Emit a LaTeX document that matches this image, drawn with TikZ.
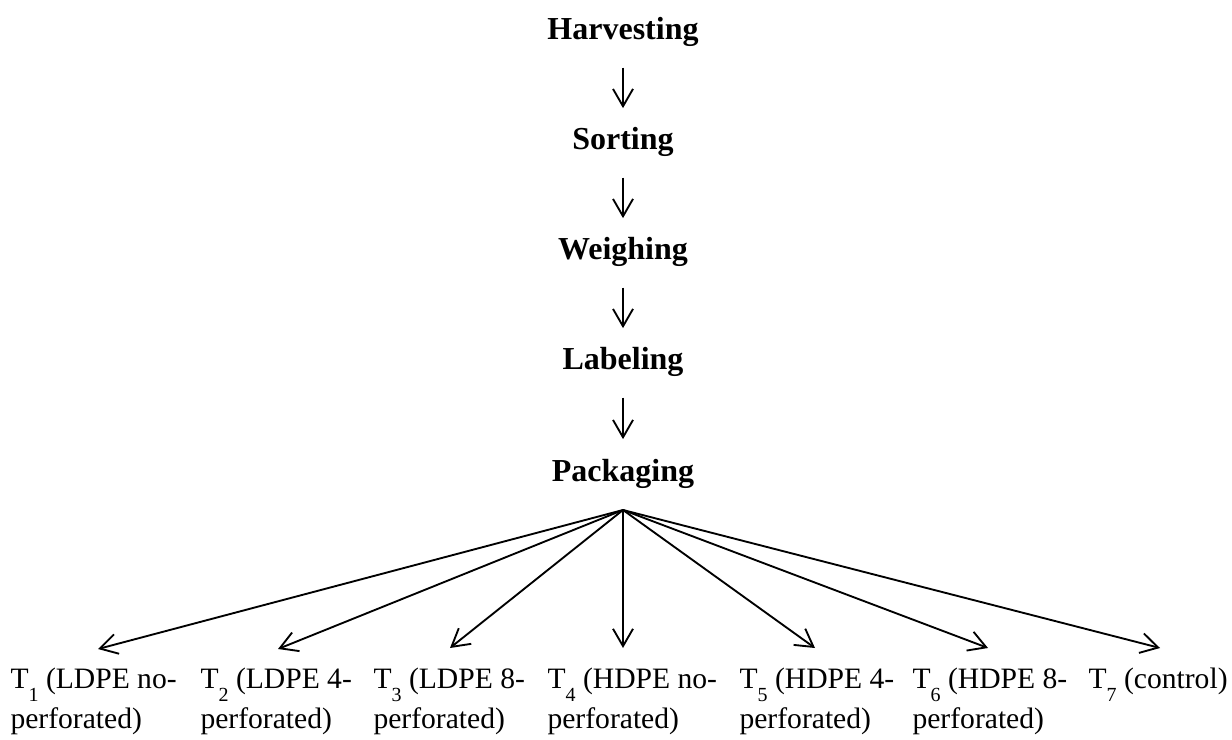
\documentclass[tikz,border=0pt]{standalone}
\usepackage{fontspec}
\setmainfont{Liberation Serif}
\usetikzlibrary{arrows.meta}
\newcommand{\tsub}[1]{\raisebox{-5pt}{\fontsize{7.5}{8}\selectfont #1}}

\begin{document}
\begin{tikzpicture}[x=0.375pt,y=-0.375pt,
  stage/.style={font=\fontsize{12}{15}\selectfont\bfseries,inner sep=0pt,text height=8.5pt,text depth=2.7pt,anchor=base},
  treat/.style={font=\fontsize{11.1}{15.2}\selectfont,inner sep=0pt,align=left,anchor=north west},
  flow/.style={-{Straight Barb[length=6.5pt,width=7.5pt]},line width=0.7pt}]
\useasboundingbox (0,0) rectangle (1232,740);
% steps
\node[stage] (H) at (623,40) {Harvesting};
\node[stage] (S) at (623,150) {Sorting};
\node[stage] (W) at (623,260) {Weighing};
\node[stage] (L) at (623,370) {Labeling};
\node[stage] (P) at (623,481) {Packaging};
\draw[flow,shorten <=7.5pt,shorten >=7pt] (H.south)--(S.north);
\draw[flow,shorten <=7.5pt,shorten >=7pt] (S.south)--(W.north);
\draw[flow,shorten <=7.5pt,shorten >=7pt] (W.south)--(L.north);
\draw[flow,shorten <=7.5pt,shorten >=7pt] (L.south)--(P.north);
% treatments
\coordinate (F) at (623,510);
\node[treat] (T1) at (10,667) {T\tsub{1} (LDPE no-\\perforated)};
\node[treat] (T2) at (200,667) {T\tsub{2} (LDPE 4-\\perforated)};
\node[treat] (T3) at (373,667) {T\tsub{3} (LDPE 8-\\perforated)};
\node[treat] (T4) at (547,667) {T\tsub{4} (HDPE no-\\perforated)};
\node[treat] (T5) at (739,667) {T\tsub{5} (HDPE 4-\\perforated)};
\node[treat] (T6) at (912,667) {T\tsub{6} (HDPE 8-\\perforated)};
\node[treat] (T7) at (1088,667) {T\tsub{7} (control)};
\coordinate (t1) at (98,649);
\coordinate (t2) at (278,649);
\coordinate (t3) at (450,648);
\coordinate (t4) at (623,648);
\coordinate (t5) at (815,648);
\coordinate (t6) at (988,648);
\coordinate (t7) at (1160,648);
\draw[flow] (F)--(t1);
\draw[flow] (F)--(t2);
\draw[flow] (F)--(t3);
\draw[flow] (F)--(t4);
\draw[flow] (F)--(t5);
\draw[flow] (F)--(t6);
\draw[flow] (F)--(t7);
\end{tikzpicture}
\end{document}
